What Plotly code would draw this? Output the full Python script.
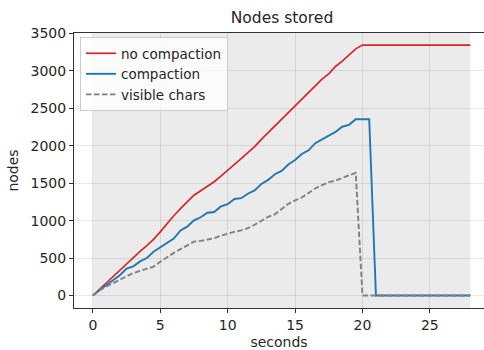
import plotly.graph_objects as go

seconds = [i * 0.5 for i in range(57)]

no_compaction = [0, 85, 170, 255, 340, 425, 510, 590, 665, 750,
                 850, 960, 1065, 1160, 1250, 1340, 1400, 1460, 1520, 1595,
                 1670, 1750, 1830, 1910, 1990, 2085, 2175, 2260, 2355, 2440,
                 2540, 2630, 2720, 2810, 2890, 2960, 3060, 3130, 3210, 3295,
                 3345] + [3345] * 16

compaction = [0, 75, 140, 205, 270, 360, 390, 455, 500, 585,
              640, 700, 760, 870, 920, 1005, 1045, 1105, 1115, 1190,
              1220, 1290, 1300, 1360, 1405, 1490, 1545, 1620, 1665, 1750,
              1810, 1890, 1940, 2035, 2085, 2145, 2185, 2255, 2280, 2355,
              2355, 2355] + [0] * 15

visible_chars = [0, 70, 120, 165, 215, 255, 300, 330, 360, 385,
                 450, 515, 570, 620, 670, 720, 730, 745, 765, 800,
                 830, 850, 870, 900, 945, 1000, 1050, 1085, 1160, 1225,
                 1270, 1310, 1370, 1430, 1475, 1515, 1535, 1570, 1600, 1640] + [0] * 17

x_ticks = [0, 5, 10, 15, 20, 25]
y_ticks = [0, 500, 1000, 1500, 2000, 2500, 3000, 3500]

W, H = 484, 350
L, R, T, B = 74, 0, 33, 42
FONT = "DejaVu Sans"

fig = go.Figure()
fig.add_trace(go.Scatter(x=seconds, y=no_compaction, mode="lines", name="no compaction",
                         line=dict(color="#d62728", width=1.7)))
fig.add_trace(go.Scatter(x=seconds, y=compaction, mode="lines", name="compaction",
                         line=dict(color="#1f77b4", width=1.9)))
fig.add_trace(go.Scatter(x=seconds, y=visible_chars, mode="lines", name="visible chars",
                         line=dict(color="#808080", width=1.9, dash="5.5px,2.5px")))

fig.add_shape(type="rect", xref="x", yref="paper", x0=seconds[0], x1=seconds[-1], y0=0, y1=1,
              fillcolor="#ebebeb", line=dict(width=0), layer="below")

fig.update_layout(
    width=W, height=H,
    margin=dict(l=L, r=R, t=T, b=B),
    paper_bgcolor="white", plot_bgcolor="white",
    font=dict(family=FONT, size=14, color="#262626"),
    title=dict(text="Nodes stored", x=(282 - L) / (W - L - R), xref="paper", xanchor="center",
               y=1 - 18 / H, yref="container", yanchor="middle",
               font=dict(size=15.5, color="#262626")),
    showlegend=True,
    legend=dict(x=(80 - L) / (W - L - R), y=1 - (37 - T) / (H - T - B), xanchor="left", yanchor="top",
                bgcolor="rgba(255,255,255,0.8)", bordercolor="#cccccc", borderwidth=1,
                font=dict(size=13.5, color="#262626"), itemwidth=30, tracegroupgap=0),
    xaxis=dict(range=[-1.4, -1.4 + (W - L - R) / 13.48], tickvals=x_ticks,
               showgrid=True, gridcolor="rgba(0,0,0,0.09)", gridwidth=1,
               zeroline=False, showline=True, linecolor="#333333", linewidth=1, mirror=True,
               ticks="outside", ticklen=4, tickcolor="#333333",
               tickfont=dict(size=14, color="#262626"),
               title=dict(text="seconds", font=dict(size=14), standoff=6)),
    yaxis=dict(range=[-167, 3507], tickvals=y_ticks,
               showgrid=True, gridcolor="rgba(0,0,0,0.09)", gridwidth=1,
               zeroline=False, showline=True, linecolor="#333333", linewidth=1,
               ticks="outside", ticklen=4, tickcolor="#333333",
               tickfont=dict(size=14, color="#262626"),
               title=dict(text="nodes", font=dict(size=14), standoff=8)),
)

fig.write_html("out.html", config={"displayModeBar": False},
               post_script="document.body.style.margin='0';document.body.style.padding='0';")
